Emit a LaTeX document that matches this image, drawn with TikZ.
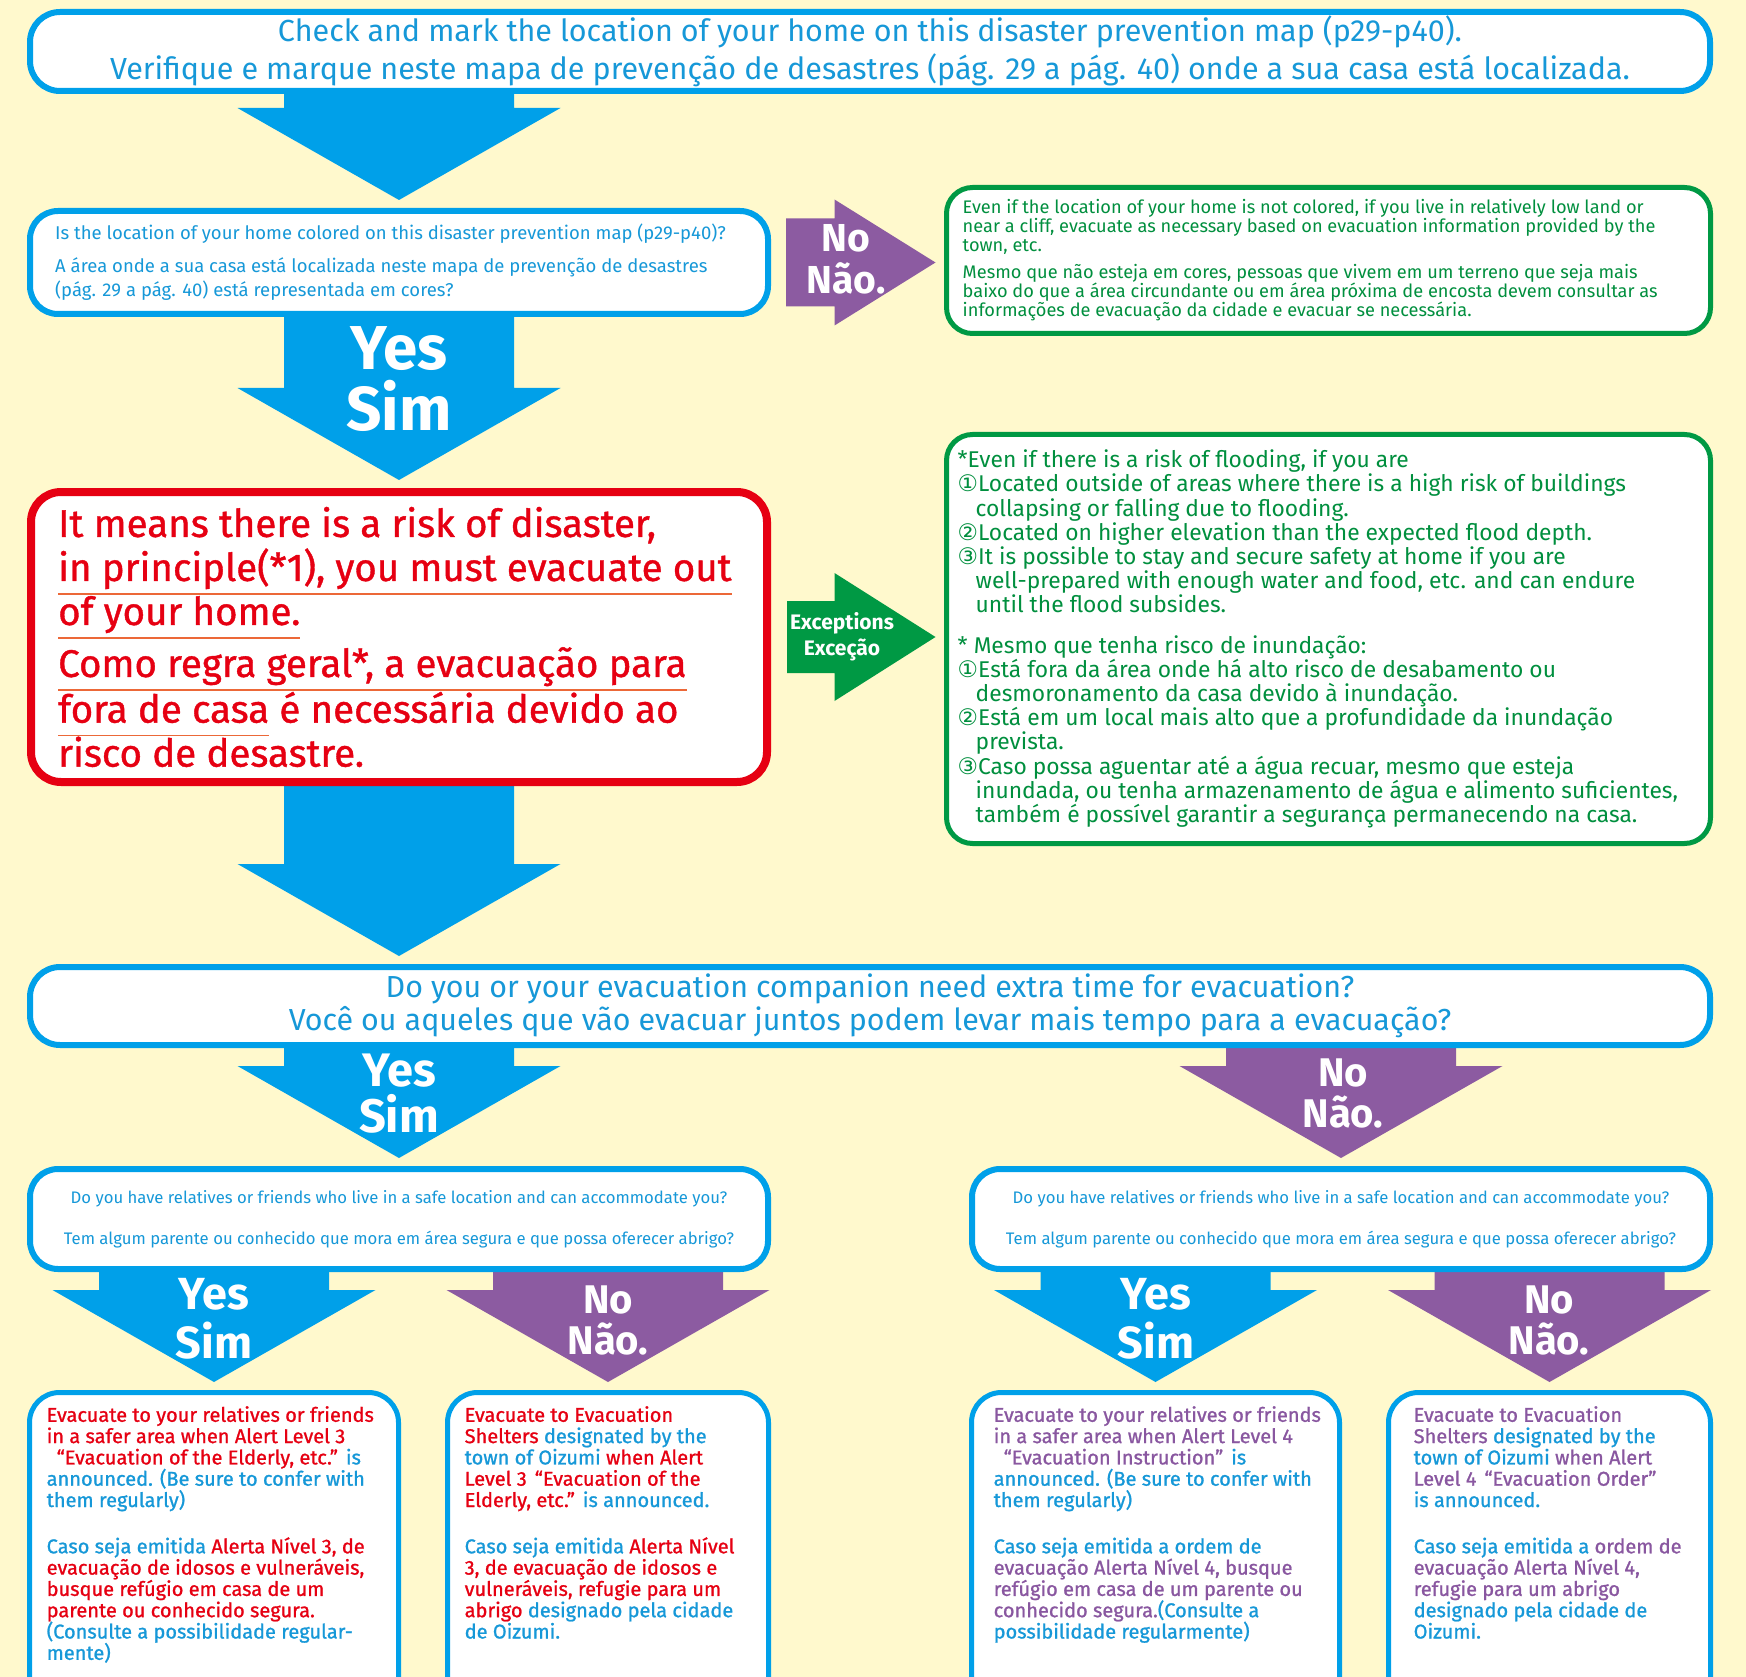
\documentclass[tikz,border=0pt]{standalone}
\usepackage{fontspec}
\setmainfont{Fira Sans}
\newfontfamily\circfont{DejaVu Sans}
\newfontfamily\boldish{Fira Sans}[FakeBold=1]
\usetikzlibrary{positioning,calc}

\definecolor{bgyellow}{RGB}{255,249,205}
\definecolor{mapblue}{RGB}{0,160,233}
\definecolor{txtblue}{RGB}{22,152,216}
\definecolor{nopurple}{RGB}{140,91,161}
\definecolor{txtpurple}{RGB}{137,87,160}
\definecolor{okgreen}{RGB}{0,153,68}
\definecolor{txtgreen}{RGB}{0,143,62}
\definecolor{riskred}{RGB}{230,0,18}
\definecolor{ulorange}{RGB}{236,104,56}

\newsavebox{\ulbox}
\newcommand{\orangeul}[1]{\sbox{\ulbox}{#1}\rlap{\textcolor{ulorange}{\rule[-0.36em]{\wd\ulbox}{1.8pt}}}\usebox{\ulbox}}
\newcommand{\cnum}[1]{{\circfont #1}}

\pgfdeclarelayer{back}
\pgfsetlayers{back,main}

\begin{document}
\begin{tikzpicture}[x=1pt, y=-1pt,
  mapbox/.style={draw=mapblue, line width=6pt, fill=white, rounded corners=30pt, inner sep=0pt},
  askbox/.style={draw=mapblue, line width=6pt, fill=white, rounded corners=28pt, inner sep=0pt,
    minimum width=738pt},
  riskbox/.style={draw=riskred, line width=8pt, fill=white, rounded corners=30pt, inner sep=0pt},
  notebox/.style={draw=okgreen, line width=5pt, fill=white, rounded corners=26pt, inner sep=0pt},
  evacbox/.style={draw=mapblue, line width=5pt, fill=white, rounded corners=30pt, inner sep=0pt,
    minimum height=330pt},
  evactext/.style={anchor=north west, inner sep=0pt, align=left, text=txtblue,
    font=\boldish\fontsize{20}{21.3}\selectfont},
  bigtext/.style={text=white, align=center, inner sep=0pt},
  ]
  \useasboundingbox (0,0) rectangle (1746,1677);
  \begin{pgfonlayer}{back}
    \fill[bgyellow] (0,0) rectangle (1746,1677);
  \end{pgfonlayer}

  %boxes
  \node[mapbox, minimum width=1680pt, minimum height=79pt, text=txtblue, align=center,
    font=\fontsize{30.5}{38}\selectfont] (top) at (870,51.5)
    {Check and mark the location of your home on this disaster prevention map (p29-p40).\\
     Verifique e marque neste mapa de prevenção de desastres (pág. 29 a pág. 40) onde a sua casa está localizada.};

  \node[askbox, minimum height=103pt] (q1) at (399,262.5) {};
  \node[anchor=west, inner sep=0pt, align=left, text=txtblue, font=\fontsize{18.5}{24}\selectfont]
    (q1text) at ([xshift=28pt]q1.west)
    {Is the location of your home colored on this disaster prevention map (p29-p40)?\\[9pt]
     A área onde a sua casa está localizada neste mapa de prevenção de desastres\\
     (pág. 29 a pág. 40) está representada em cores?};

  \node[notebox, minimum width=764pt, minimum height=146pt] (nogreen) at (1328.5,260.5) {};
  \node[anchor=west, inner sep=0pt, align=left, text=txtgreen, font=\fontsize{18.2}{19}\selectfont]
    (nogreentext) at ([xshift=18.5pt]nogreen.west)
    {Even if the location of your home is not colored, if you live in relatively low land or\\
     near a cliff, evacuate as necessary based on evacuation information provided by the\\
     town, etc.\\[8pt]
     Mesmo que não esteja em cores, pessoas que vivem em um terreno que seja mais\\
     baixo do que a área circundante ou em área próxima de encosta devem consultar as\\
     informações de evacuação da cidade e evacuar se necessária.};

  \node[riskbox, minimum width=736pt, minimum height=290pt] (risk) at (399,637) {};
  \node[anchor=west, inner sep=0pt, align=left, text=riskred, font=\boldish\fontsize{38.5}{44}\selectfont]
    (risktext) at ([xshift=31pt]risk.west)
    {It means there is a risk of disaster,\\
     \orangeul{in principle(*1), you must evacuate out}\\
     \orangeul{of your home.}\\[8pt]
     \orangeul{Como regra geral*, a evacuação para}\\
     \orangeul{fora de casa} é necessária devido ao\\
     risco de desastre.};

  \node[notebox, minimum width=764pt, minimum height=409pt] (exgreen) at (1328.5,639) {};
  \node[anchor=west, inner sep=0pt, align=left, text=txtgreen, font=\fontsize{22.8}{24.2}\selectfont]
    (exgreentext) at ([xshift=13.5pt]exgreen.west)
    {*Even if there is a risk of flooding, if you are\\
     \cnum{①}Located outside of areas where there is a high risk of buildings\\
     \hspace*{18pt}collapsing or falling due to flooding.\\
     \cnum{②}Located on higher elevation than the expected flood depth.\\
     \cnum{③}It is possible to stay and secure safety at home if you are\\
     \hspace*{18pt}well-prepared with enough water and food, etc. and can endure\\
     \hspace*{18pt}until the flood subsides.\\[16pt]
     * Mesmo que tenha risco de inundação:\\
     \cnum{①}Está fora da área onde há alto risco de desabamento ou\\
     \hspace*{18pt}desmoronamento da casa devido à inundação.\\
     \cnum{②}Está em um local mais alto que a profundidade da inundação\\
     \hspace*{18pt}prevista.\\
     \cnum{③}Caso possa aguentar até a água recuar, mesmo que esteja\\
     \hspace*{18pt}inundada, ou tenha armazenamento de água e alimento suficientes,\\
     \hspace*{18pt}também é possível garantir a segurança permanecendo na casa.};

  \node[mapbox, minimum width=1680pt, minimum height=78pt, text=txtblue, align=center,
    font=\fontsize{30.4}{33}\selectfont] (q2) at (870,1006)
    {Do you or your evacuation companion need extra time for evacuation?\\
     Você ou aqueles que vão evacuar juntos podem levar mais tempo para a evacuação?};

  \node[askbox, minimum height=100pt, text=txtblue, align=center, font=\fontsize{16.7}{41}\selectfont]
    (q3l) at (399,1219)
    {Do you have relatives or friends who live in a safe location and can accommodate you?\\
     Tem algum parente ou conhecido que mora em área segura e que possa oferecer abrigo?};
  \node[askbox, minimum height=100pt, text=txtblue, align=center, font=\fontsize{16.7}{41}\selectfont]
    (q3r) at (1341,1219)
    {Do you have relatives or friends who live in a safe location and can accommodate you?\\
     Tem algum parente ou conhecido que mora em área segura e que possa oferecer abrigo?};

  \node[evacbox, minimum width=369pt] (stay3) at (214,1557.5) {};
  \node[evacbox, minimum width=321pt] (shelter3) at (608,1557.5) {};
  \node[evacbox, minimum width=368pt] (stay4) at (1155.5,1557.5) {};
  \node[evacbox, minimum width=322pt] (shelter4) at (1549.5,1557.5) {};

  \node[evactext] (stay3text) at ([shift={(19.5pt,-16pt)}]stay3.north west)
    {\textcolor{riskred}{Evacuate to your relatives or friends}\\
     \textcolor{riskred}{in a safer area when Alert Level 3}\\
     \hspace*{10pt}\textcolor{riskred}{“Evacuation of the Elderly, etc.”}\hspace{8pt}is\\
     announced. (Be sure to confer with\\
     them regularly)\\[25pt]
     Caso seja emitida \textcolor{riskred}{Alerta Nível 3, de}\\
     \textcolor{riskred}{evacuação de idosos e vulneráveis,}\\
     \textcolor{riskred}{busque refúgio em casa de um}\\
     \textcolor{riskred}{parente ou conhecido segura.}\\
     (Consulte a possibilidade regular-\\
     mente)};
  \node[evactext] (shelter3text) at ([shift={(19.5pt,-16pt)}]shelter3.north west)
    {\textcolor{riskred}{Evacuate to Evacuation}\\
     \textcolor{riskred}{Shelters} designated by the\\
     town of Oizumi \textcolor{riskred}{when Alert}\\
     \textcolor{riskred}{Level 3\hspace{8pt}“Evacuation of the}\\
     \textcolor{riskred}{Elderly, etc.”}\hspace{8pt}is announced.\\[25pt]
     Caso seja emitida \textcolor{riskred}{Alerta Nível}\\
     \textcolor{riskred}{3, de evacuação de idosos e}\\
     \textcolor{riskred}{vulneráveis, refugie para um}\\
     \textcolor{riskred}{abrigo} designado pela cidade\\
     de Oizumi.};
  \node[evactext] (stay4text) at ([shift={(24.5pt,-16pt)}]stay4.north west)
    {\textcolor{txtpurple}{Evacuate to your relatives or friends}\\
     \textcolor{txtpurple}{in a safer area when Alert Level 4}\\
     \hspace*{10pt}\textcolor{txtpurple}{“Evacuation Instruction”}\hspace{8pt}is\\
     announced. (Be sure to confer with\\
     them regularly)\\[25pt]
     Caso seja emitida a ordem de\\
     \textcolor{txtpurple}{evacuação Alerta Nível 4, busque}\\
     \textcolor{txtpurple}{refúgio em casa de um parente ou}\\
     \textcolor{txtpurple}{conhecido segura.}(Consulte a\\
     possibilidade regularmente)};
  \node[evactext] (shelter4text) at ([shift={(27.5pt,-16pt)}]shelter4.north west)
    {\textcolor{txtpurple}{Evacuate to Evacuation}\\
     \textcolor{txtpurple}{Shelters} designated by the\\
     town of Oizumi \textcolor{txtpurple}{when Alert}\\
     \textcolor{txtpurple}{Level 4\hspace{8pt}“Evacuation Order”}\\
     is announced.\\[25pt]
     Caso seja emitida a \textcolor{txtpurple}{ordem de}\\
     \textcolor{txtpurple}{evacuação Alerta Nível 4,}\\
     \textcolor{txtpurple}{refugie para um abrigo}\\
     designado pela cidade de\\
     Oizumi.};

  %arrows
  \begin{pgfonlayer}{back}
    \foreach \src/\dst/\dx/\col in {top/q1/0/mapblue, q1/risk/0/mapblue, risk/q2/-471/mapblue,
        q2/q3l/0/mapblue, q2/q3r/0/nopurple, q3l/stay3/0/mapblue, q3l/shelter3/0/nopurple,
        q3r/stay4/0/mapblue, q3r/shelter4/0/nopurple}
      \fill[\col] ($(\dst.north |- \src.south)+(\dx-115,0)$)
        -- ($(\dst.north)+(\dx-115,-100)$) -- ($(\dst.north)+(\dx-161.5,-100)$)
        -- ($(\dst.north)+(\dx,-8)$)
        -- ($(\dst.north)+(\dx+161.5,-100)$) -- ($(\dst.north)+(\dx+115,-100)$)
        -- ($(\dst.north |- \src.south)+(\dx+115,0)$) -- cycle;
    \fill[nopurple] ($(q1.east)+(15,-44)$) -- ($(q1.east -| nogreen.west)+(-109.5,-44)$)
      -- ($(q1.east -| nogreen.west)+(-109.5,-63)$) -- ($(q1.east -| nogreen.west)+(-8.5,0)$)
      -- ($(q1.east -| nogreen.west)+(-109.5,63)$) -- ($(q1.east -| nogreen.west)+(-109.5,44)$)
      -- ($(q1.east)+(15,44)$) -- cycle;
    \fill[okgreen] ($(risk.east)+(16,-36)$) -- ($(risk.east -| exgreen.west)+(-109.5,-36)$)
      -- ($(risk.east -| exgreen.west)+(-109.5,-64)$) -- ($(risk.east -| exgreen.west)+(-8.5,0)$)
      -- ($(risk.east -| exgreen.west)+(-109.5,64)$) -- ($(risk.east -| exgreen.west)+(-109.5,36)$)
      -- ($(risk.east)+(16,36)$) -- cycle;
  \end{pgfonlayer}

  %arrow labels
  \node[bigtext, font=\bfseries\fontsize{62}{61}\selectfont] (yes1) at (399,379.5) {Yes\\Sim};
  \node[bigtext, font=\bfseries\fontsize{39}{42}\selectfont] (no1) at (846,259) {No\\Não.};
  \node[bigtext, font=\bfseries\fontsize{21}{26}\selectfont] (exc) at (842,637) {Exceptions\\Exceção};
  \node[bigtext, font=\bfseries\fontsize{47}{46}\selectfont] (yes2) at (399,1094) {Yes\\Sim};
  \node[bigtext, font=\bfseries\fontsize{40}{41}\selectfont] (no2) at (1343,1093) {No\\Não.};
  \node[bigtext, font=\bfseries\fontsize{45}{49}\selectfont] (yes3) at (214,1318.5) {Yes\\Sim};
  \node[bigtext, font=\bfseries\fontsize{40}{41}\selectfont] (no3) at (608,1320.5) {No\\Não.};
  \node[bigtext, font=\bfseries\fontsize{45}{49}\selectfont] (yes4) at (1156,1318.5) {Yes\\Sim};
  \node[bigtext, font=\bfseries\fontsize{40}{41}\selectfont] (no4) at (1549,1320.5) {No\\Não.};
\end{tikzpicture}
\end{document}
